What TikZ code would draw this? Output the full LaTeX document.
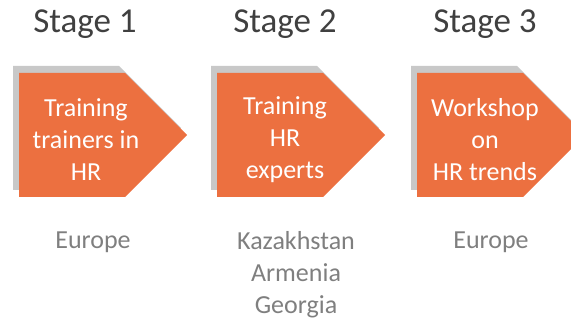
\documentclass[tikz,border=0pt]{standalone}
\usepackage{fontspec}
\setmainfont{Carlito}
\usetikzlibrary{shapes.symbols,shadows,positioning}
\definecolor{stageorange}{RGB}{236,112,64}
\definecolor{shadowgray}{RGB}{200,200,200}
\definecolor{titlegray}{RGB}{64,64,64}
\definecolor{placegray}{RGB}{127,127,127}

\begin{document}
\begin{tikzpicture}[
  x=1pt, y=1pt,
  stagebox/.style={signal, signal to=east, signal pointer angle=90,
                   fill=stageorange, minimum width=168pt, minimum height=124pt,
                   inner sep=0pt, anchor=west,
                   drop shadow={shadow xshift=-6pt, shadow yshift=7pt,
                                fill=shadowgray, opacity=1}},
  boxtext/.style={text=white, align=center, font=\fontsize{26}{32}\selectfont},
  title/.style={text=titlegray, anchor=base, font=\fontsize{35}{42}\selectfont},
  place/.style={text=placegray, align=center, anchor=north,
                font=\fontsize{26}{32}\selectfont}
]
\useasboundingbox (0,0) rectangle (571,320);
\clip (0,0) rectangle (571,320);

% arrows
\node[stagebox] (box1) at (19,185) {};
\node[stagebox] (box2) at (217,185) {};
\node[stagebox] (box3) at (417,185) {};

% texts inside
\node[boxtext] (txt1) at (86,180) {Training\\trainers in\\HR};
\node[boxtext] (txt2) at (285,180) {Training\\HR\\experts};
\node[boxtext] (txt3) at (485,180) {Workshop\\on\\HR trends};

% stage titles
\node[title] (stage1) at (85,287) {Stage 1};
\node[title] (stage2) at (285,287) {Stage 2};
\node[title] (stage3) at (485,287) {Stage 3};

% places
\node[place] (place1) at (93,92) {Europe};
\node[place] (place2) at (296,92) {Kazakhstan\\Armenia\\Georgia};
\node[place] (place3) at (491,92) {Europe};
\end{tikzpicture}
\end{document}
